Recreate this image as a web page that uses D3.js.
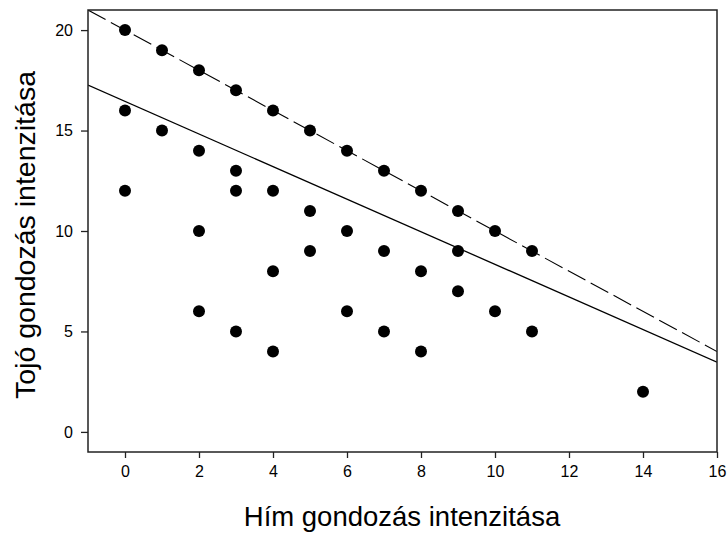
<!DOCTYPE html>
<html>
<head>
<meta charset="utf-8">
<script src="https://cdn.jsdelivr.net/npm/d3@7"></script>
<style>
  html, body { margin: 0; padding: 0; background: #fff; }
  svg { display: block; font-family: "Liberation Sans", Arial, sans-serif; }
</style>
</head>
<body>
<svg id="chart" width="728" height="533"></svg>
<script>
// Male care intensity (x) vs female care intensity (y)
const himValues  = [0, 0, 0, 1, 1, 2, 2, 2, 2, 3, 3, 3, 3, 4, 4, 4, 4, 5, 5, 5, 6, 6, 6, 7, 7, 7, 8, 8, 8, 9, 9, 9, 10, 10, 11, 11, 14];
const tojoValues = [20, 16, 12, 19, 15, 18, 14, 10, 6, 17, 13, 12, 5, 16, 12, 8, 4, 15, 11, 9, 14, 10, 6, 13, 9, 5, 12, 8, 4, 11, 9, 7, 10, 6, 9, 5, 2];

// Fitted regression line and the y = 20 - x reference line
const regIntercept = 16.45, regSlope = -0.811;
const refIntercept = 20, refSlope = -1;

const xTicks = [0, 2, 4, 6, 8, 10, 12, 14, 16];
const yTicks = [0, 5, 10, 15, 20];
const xTitle = "Hím gondozás intenzitása";
const yTitle = "Tojó gondozás intenzitása";

const svg = d3.select("#chart");
const L = 88, R = 717, T = 10, B = 452;

const x = d3.scaleLinear().domain([-1, 16]).range([L, R]);
const y = d3.scaleLinear().domain([-1, 21]).range([B, T]);

svg.append("clipPath").attr("id", "plotclip")
  .append("rect").attr("x", L).attr("y", T).attr("width", R - L).attr("height", B - T);

const plot = svg.append("g").attr("clip-path", "url(#plotclip)");

const xd = x.domain();
function lineData(a, b) { return [[xd[0], a + b * xd[0]], [xd[1], a + b * xd[1]]]; }
const lineGen = d3.line().x(d => x(d[0])).y(d => y(d[1]));

plot.append("path").attr("d", lineGen(lineData(refIntercept, refSlope)))
  .attr("fill", "none").attr("stroke", "#000").attr("stroke-width", 1.1)
  .attr("stroke-dasharray", "20,6");
plot.append("path").attr("d", lineGen(lineData(regIntercept, regSlope)))
  .attr("fill", "none").attr("stroke", "#000").attr("stroke-width", 1.3);

plot.selectAll("circle").data(himValues).join("circle")
  .attr("cx", d => x(d))
  .attr("cy", (d, i) => y(tojoValues[i]))
  .attr("r", 6)
  .attr("fill", "#000");

// Frame
svg.append("rect").attr("x", L).attr("y", T).attr("width", R - L).attr("height", B - T)
  .attr("fill", "none").attr("stroke", "#222").attr("stroke-width", 1.5);

// Axes
const xAxis = d3.axisBottom(x).tickValues(xTicks).tickSize(6).tickPadding(8).tickFormat(d3.format("d"));
const gx = svg.append("g").attr("transform", `translate(0,${B})`).call(xAxis);
const yAxis = d3.axisLeft(y).tickValues(yTicks).tickSize(7).tickPadding(8).tickFormat(d3.format("d"));
const gy = svg.append("g").attr("transform", `translate(${L},0)`).call(yAxis);
[gx, gy].forEach(g => {
  g.attr("font-size", null).attr("font-family", null);
  g.select(".domain").remove();
  g.selectAll(".tick line").attr("stroke", "#222").attr("stroke-width", 1.3);
  g.selectAll(".tick text").attr("fill", "#000").style("font-size", "16px");
});

svg.append("text").attr("x", 402).attr("y", 526)
  .attr("text-anchor", "middle").style("font-size", "27.5px").attr("fill", "#000")
  .text(xTitle);
svg.append("text").attr("transform", `translate(35,235) rotate(-90)`)
  .attr("text-anchor", "middle").style("font-size", "28.5px").attr("fill", "#000")
  .text(yTitle);
</script>
</body>
</html>
